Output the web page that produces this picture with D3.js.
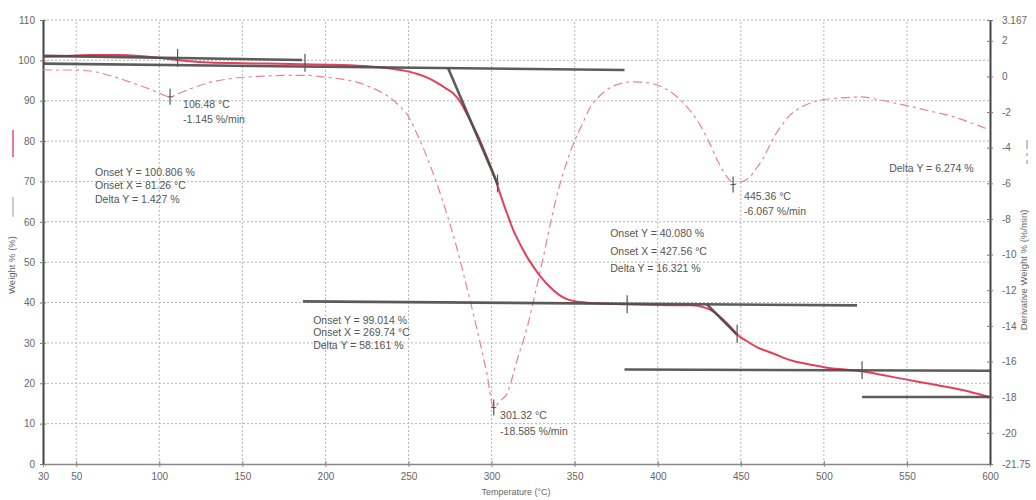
<!DOCTYPE html>
<html>
<head>
<meta charset="utf-8">
<script src="https://cdn.jsdelivr.net/npm/d3@7"></script>
<style>
  body { margin: 0; background: #fff; }
  svg { font-family: "Liberation Sans", Arial, sans-serif; }
  .axis text { fill: #666; font-size: 10px; }
  .note { fill: #555; font-size: 10.5px; }
</style>
</head>
<body>
<script>
// TGA curve (weight %) vs temperature
var tgaTemp = [30, 45, 60, 75, 88, 98, 108, 118, 130, 150, 180, 205, 227, 239, 248, 255, 262, 267, 272, 277,
               281, 285, 289, 293, 297, 301, 304, 307, 310, 313, 316, 319, 323, 327, 331, 335, 340, 345, 350, 360,
               380, 400, 420, 426, 432, 438, 444, 448, 453, 460, 470, 480, 492, 504, 515, 524, 537, 550, 562, 574,
               586, 598, 600];
var tgaWeight = [100.9, 101.1, 101.3, 101.3, 101.1, 100.7, 100.2, 99.8, 99.5, 99.3, 99.1, 98.9, 98.5, 98.0, 97.4, 96.7, 95.6, 94.5, 93.2, 91.8,
                 89.8, 86.8, 83.6, 80.2, 76.2, 72.0, 68.4, 64.7, 61.3, 58.0, 55.4, 53.0, 50.2, 47.8, 45.7, 43.9, 42.1, 40.9, 40.3, 39.9,
                 39.6, 39.4, 39.3, 39.0, 38.1, 36.3, 33.9, 32.0, 30.6, 28.9, 27.3, 25.7, 24.6, 23.7, 23.3, 22.9, 21.9, 20.9, 20.0, 19.1,
                 18.1, 16.8, 16.6];

// DTG curve (derivative weight %/min)
var dtgTemp = [30, 50, 62, 72, 84, 94, 101, 106.48, 112, 120, 130, 145, 160, 175, 188, 200, 209, 220, 227, 234,
               239, 245, 249, 255, 261, 267, 273, 279, 285, 291, 297, 301.32, 305, 309.3, 315.4, 321.4, 326.2, 331, 336, 341,
               346, 350, 355, 359, 365, 371, 377, 383, 390, 395, 401, 406, 411, 416.5, 421, 425.5, 431, 435.8, 440, 443.6,
               445.36, 448, 451, 455.6, 459, 462.9, 467, 470.7, 475, 479.7, 485, 491.8, 500, 509.8, 521.9, 533.9, 543, 553.8,
               564, 574.3, 587, 600];
var dtgValue = [0.36, 0.36, 0.25, 0.0, -0.37, -0.70, -0.98, -1.145, -0.95, -0.65, -0.35, -0.10, 0.0, 0.06, 0.06, -0.04, -0.14, -0.35, -0.6, -0.9,
                -1.2, -1.7, -2.1, -3.2, -4.5, -6.0, -7.7, -9.6, -11.8, -14.1, -16.6, -18.585, -18.2, -17.8, -15.9, -14.1, -12.2, -10.2, -8.0, -6.1,
                -4.6, -3.6, -2.6, -1.8, -1.1, -0.65, -0.42, -0.31, -0.32, -0.37, -0.52, -0.76, -1.1, -1.6, -2.1, -2.72, -3.7, -4.69, -5.4, -5.85,
                -6.067, -6.0, -5.9, -5.64, -5.2, -4.69, -3.95, -3.29, -2.7, -2.16, -1.8, -1.49, -1.3, -1.21, -1.15, -1.32, -1.5, -1.72,
                -1.95, -2.16, -2.55, -3.01];

// tick labels
var xTicks = [30, 50, 100, 150, 200, 250, 300, 350, 400, 450, 500, 550, 600];
var leftTicks = [0, 10, 20, 30, 40, 50, 60, 70, 80, 90, 100, 110];
var rightTicks = [3.167, 2, 0, -2, -4, -6, -8, -10, -12, -14, -16, -18, -20, -21.75];

// onset / baseline construction lines [t1, w1, t2, w2]
var baseLines = [
  [30, 101.1, 186, 100.1],
  [30, 99.2, 380, 97.6],
  [273.8, 98.1, 303.9, 69.1],
  [186.5, 40.3, 520, 39.3],
  [429.8, 39.5, 447.8, 32.0],
  [380, 23.4, 600, 23.1],
  [523, 16.6, 600, 16.6]
];
// marks on the weight curve
var markTemp = [111, 187.7, 303.6, 381.6, 447.8, 523];
var markWeight = [100.6, 99.4, 69.5, 39.6, 32.3, 23.2];
// DTG peaks
var peakTemp = [106.48, 301.32, 445.36];
var peakValue = [-1.145, -18.585, -6.067];

// annotation text, anchored in (temperature, weight) units
var notes = [
  {t: 114.3, w: 88.2, gap: 15, lines: ['106.48 \u00B0C', '-1.145 %/min']},
  {t: 61.3, w: 71.4, gap: 13.5, lines: ['Onset Y = 100.806 %', 'Onset X = 81.26 \u00B0C', 'Delta Y = 1.427 %']},
  {t: 192.6, w: 34.7, gap: 12.5, lines: ['Onset Y = 99.014 %', 'Onset X = 269.74 \u00B0C', 'Delta Y = 58.161 %']},
  {t: 305.1, w: 11.1, gap: 16, lines: ['301.32 \u00B0C', '-18.585 %/min']},
  {t: 371.4, w: 56.2, gap: 17.5, lines: ['Onset Y = 40.080 %', 'Onset X = 427.56 \u00B0C', 'Delta Y = 16.321 %']},
  {t: 452.0, w: 65.4, gap: 15, lines: ['445.36 \u00B0C', '-6.067 %/min']},
  {t: 539.3, w: 72.3, gap: 13, lines: ['Delta Y = 6.274 %']}
];

var width = 1036,
    height = 500;

var x = d3.scaleLinear().domain([30, 600]).range([43, 990]),
    yL = d3.scaleLinear().domain([0, 110]).range([464, 20]),
    yR = d3.scaleLinear().domain([-21.75, 3.167]).range([464, 20]);

var svg = d3.select('body').append('svg')
    .attr('width', width)
    .attr('height', height);

// dotted grid
svg.append('g').selectAll('line')
    .data(xTicks.filter(function(d) { return d > 30 && d < 600; }))
    .enter().append('line')
    .attr('x1', function(d) { return x(d); })
    .attr('x2', function(d) { return x(d); })
    .attr('y1', yL(0))
    .attr('y2', yL(110))
    .attr('stroke', '#b5b5b5')
    .attr('stroke-dasharray', '2,2');

svg.append('g').selectAll('line')
    .data(leftTicks.filter(function(d) { return d > 0; }))
    .enter().append('line')
    .attr('x1', x(30))
    .attr('x2', x(600))
    .attr('y1', function(d) { return yL(d); })
    .attr('y2', function(d) { return yL(d); })
    .attr('stroke', '#b5b5b5')
    .attr('stroke-dasharray', '2,2');

// axes
var gx = svg.append('g')
    .attr('class', 'axis')
    .attr('transform', 'translate(0,' + yL(0) + ')')
    .call(d3.axisBottom(x).tickValues(xTicks).tickSizeInner(3).tickSizeOuter(0).tickPadding(6));
gx.select('.domain').attr('stroke', '#888').attr('stroke-width', 1.5);
gx.selectAll('.tick line').attr('y1', -3).attr('stroke', '#888');

var gl = svg.append('g')
    .attr('class', 'axis')
    .attr('transform', 'translate(' + x(30) + ',0)')
    .call(d3.axisLeft(yL).tickValues(leftTicks).tickSizeInner(3).tickSizeOuter(0).tickPadding(5));
gl.select('.domain').attr('stroke', '#444').attr('stroke-width', 2);
gl.selectAll('.tick line').attr('x1', 3).attr('stroke', '#777');

var gr = svg.append('g')
    .attr('class', 'axis')
    .attr('transform', 'translate(' + x(600) + ',0)')
    .call(d3.axisRight(yR).tickValues(rightTicks).tickFormat(function(d) { return String(d); })
          .tickSizeInner(3).tickSizeOuter(0).tickPadding(9));
gr.select('.domain').attr('stroke', '#444').attr('stroke-width', 2);
gr.selectAll('.tick line').attr('x1', -3).attr('stroke', '#777');

// axis titles
svg.append('text')
    .attr('transform', 'translate(15,265) rotate(-90)')
    .attr('text-anchor', 'middle')
    .attr('fill', '#666')
    .attr('font-size', 9.5)
    .text('Weight % (%)');
svg.append('line')
    .attr('x1', 13).attr('x2', 13).attr('y1', 197).attr('y2', 217)
    .attr('stroke', '#999');
svg.append('line')
    .attr('x1', 13).attr('x2', 13).attr('y1', 130).attr('y2', 157)
    .attr('stroke', '#e0506a').attr('stroke-width', 1.5);

svg.append('text')
    .attr('transform', 'translate(1027,270) rotate(-90)')
    .attr('text-anchor', 'middle')
    .attr('fill', '#666')
    .attr('font-size', 9.5)
    .text('Derivative Weight % (%/min)');
svg.append('line')
    .attr('x1', 1027).attr('x2', 1027).attr('y1', 140).attr('y2', 164)
    .attr('stroke', '#888')
    .attr('stroke-dasharray', '9,4,3,4');

svg.append('text')
    .attr('x', 516)
    .attr('y', 495)
    .attr('text-anchor', 'middle')
    .attr('fill', '#666')
    .attr('font-size', 9)
    .text('Temperature (\u00B0C)');

// DTG curve
var dtgLine = d3.line()
    .x(function(d, i) { return x(dtgTemp[i]); })
    .y(function(d, i) { return yR(dtgValue[i]); })
    .curve(d3.curveMonotoneX);

svg.append('path')
    .attr('d', dtgLine(dtgTemp))
    .attr('fill', 'none')
    .attr('stroke', '#e98296')
    .attr('stroke-width', 1.2)
    .attr('stroke-dasharray', '9,4,3,4');

// TGA curve
var tgaLine = d3.line()
    .x(function(d, i) { return x(tgaTemp[i]); })
    .y(function(d, i) { return yL(tgaWeight[i]); })
    .curve(d3.curveMonotoneX);

svg.append('path')
    .attr('d', tgaLine(tgaTemp))
    .attr('fill', 'none')
    .attr('stroke', '#e2405c')
    .attr('stroke-width', 2);

// construction lines
svg.append('g').selectAll('line')
    .data(baseLines)
    .enter().append('line')
    .attr('x1', function(d) { return x(d[0]); })
    .attr('y1', function(d) { return yL(d[1]); })
    .attr('x2', function(d) { return x(d[2]); })
    .attr('y2', function(d) { return yL(d[3]); })
    .attr('stroke', '#4a4a4a')
    .attr('stroke-opacity', 0.9)
    .attr('stroke-width', 2.6);

// marks
svg.append('g').selectAll('line')
    .data(markTemp)
    .enter().append('line')
    .attr('x1', function(d) { return x(d); })
    .attr('x2', function(d) { return x(d); })
    .attr('y1', function(d, i) { return yL(markWeight[i]) - 9; })
    .attr('y2', function(d, i) { return yL(markWeight[i]) + 9; })
    .attr('stroke', '#555')
    .attr('stroke-width', 1.2);

var peaks = svg.append('g').selectAll('g')
    .data(peakTemp)
    .enter().append('g')
    .attr('transform', function(d, i) { return 'translate(' + x(d) + ',' + yR(peakValue[i]) + ')'; });
peaks.append('line')
    .attr('y1', -8).attr('y2', 8)
    .attr('stroke', '#555').attr('stroke-width', 1.2);
peaks.append('line')
    .attr('x1', -2.5).attr('x2', 2.5)
    .attr('stroke', '#555').attr('stroke-width', 1);

// notes
var noteG = svg.append('g').selectAll('text')
    .data(notes)
    .enter().append('text')
    .attr('class', 'note')
    .attr('x', function(d) { return x(d.t); })
    .attr('y', function(d) { return yL(d.w); });

noteG.selectAll('tspan')
    .data(function(d) { return d.lines.map(function(s, i) { return {s: s, i: i, gap: d.gap, x: x(d.t)}; }); })
    .enter().append('tspan')
    .attr('x', function(d) { return d.x; })
    .attr('dy', function(d) { return d.i === 0 ? 0 : d.gap; })
    .text(function(d) { return d.s; });
</script>
</body>
</html>
